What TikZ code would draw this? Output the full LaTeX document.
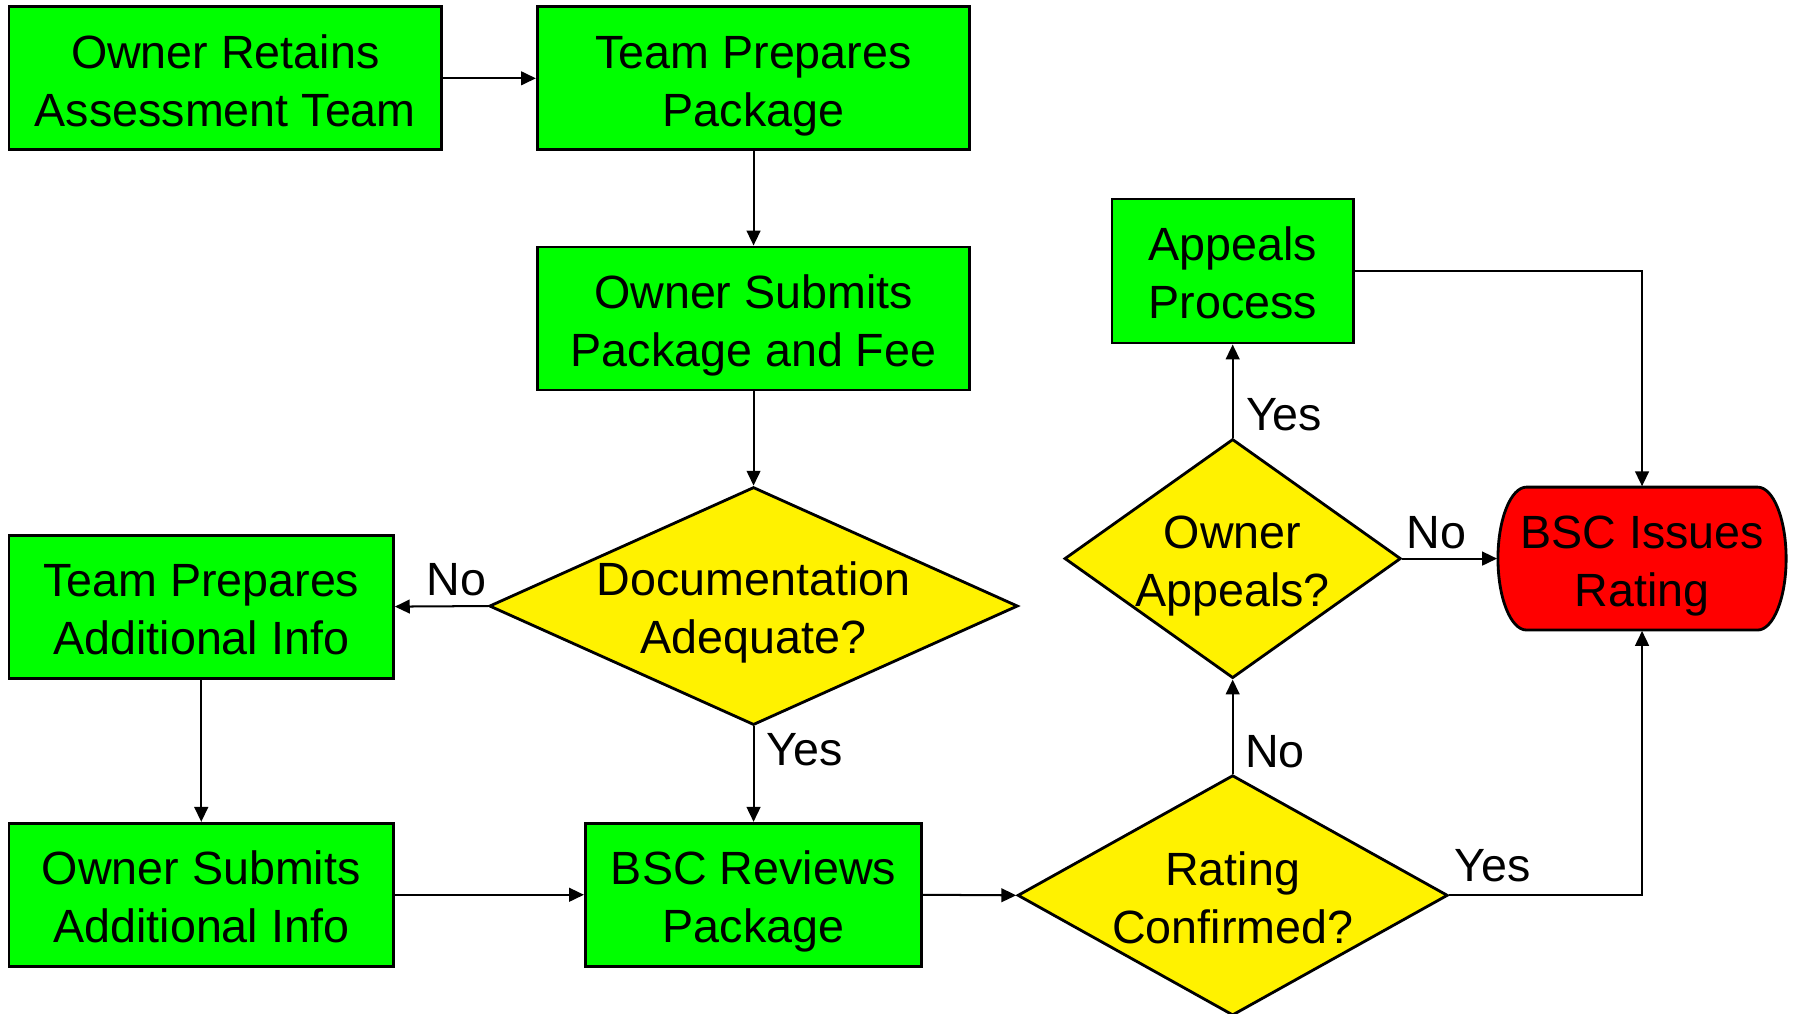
\documentclass[tikz,border=0pt]{standalone}
\usepackage{fontspec}
\setmainfont{Liberation Sans}
\usetikzlibrary{shapes.geometric, arrows.meta}

\begin{document}
\begin{tikzpicture}[x=0.01cm, y=-0.01cm,
    every node/.style={font=\fontsize{11.6}{14.4}\selectfont},
    twoline/.style={text height=23.8pt, text depth=0pt},
    task/.style={rectangle, draw, line width=0.7pt, fill=green, inner sep=0pt, minimum height=1.25cm, align=center, twoline},
    decision/.style={diamond, draw, line width=0.7pt, fill=yellow, inner sep=0pt},
    dtext/.style={align=center, inner sep=0pt, twoline},
    answer/.style={inner sep=0pt},
    arrow/.style={-{Triangle[length=1.3mm, width=1.2mm]}, line width=0.5pt}
]
    \useasboundingbox (0,0) rectangle (1568,886);

    % Process steps
    \node[task, minimum width=3.78cm] (retain) at (197,68.5) {Owner Retains\\Assessment Team};
    \node[task, minimum width=3.78cm] (prepare) at (659,68.5) {Team Prepares\\Package};
    \node[task, minimum width=3.78cm] (submit) at (659,278.5) {Owner Submits\\Package and Fee};
    \node[task, minimum width=3.36cm] (addinfo) at (176,530.5) {Team Prepares\\Additional Info};
    \node[task, minimum width=3.36cm] (subinfo) at (176,782.5) {Owner Submits\\Additional Info};
    \node[task, minimum width=2.94cm] (review) at (659,782.5) {BSC Reviews\\Package};
    \node[task, minimum width=2.11cm, minimum height=1.26cm] (appeals) at (1078,237) {Appeals\\Process};

    % Decisions
    \node[decision, minimum width=4.62cm, minimum height=2.08cm, label={[dtext]center:Documentation\\Adequate?}] (doc) at (659,530) {};
    \node[decision, minimum width=2.94cm, minimum height=2.09cm, label={[dtext]center:Owner\\Appeals?}] (appeal) at (1078,488.5) {};
    \node[decision, minimum width=3.76cm, minimum height=2.10cm, label={[dtext]center:Rating\\Confirmed?}] (rating) at (1078,783) {};

    % Terminator
    \draw[line width=0.7pt, fill=red] (1335,426) -- (1537,426)
        .. controls (1550.8,426) and (1562,454) .. (1562,488.5)
        .. controls (1562,523) and (1550.8,551) .. (1537,551) -- (1335,551)
        .. controls (1321.2,551) and (1310,523) .. (1310,488.5)
        .. controls (1310,454) and (1321.2,426) .. (1335,426) -- cycle;
    \node[minimum width=2.52cm, minimum height=1.25cm, inner sep=0pt, align=center, twoline] (issue) at (1436,488.5) {BSC Issues\\Rating};

    % Arrows
    \draw[arrow] (retain) -- (prepare);
    \draw[arrow] (prepare) -- (submit);
    \draw[arrow] (submit) -- (doc.north);
    \draw[arrow] (doc.west) -- (addinfo.east);
    \draw[arrow] (doc.south) -- (review.north);
    \draw[arrow] (addinfo) -- (subinfo);
    \draw[arrow] (subinfo) -- (review);
    \draw[arrow] (review.east) -- (rating.west);
    \draw[arrow] (rating.north) -- (appeal.south);
    \draw[arrow] (appeal.north) -- (appeals.south);
    \draw[arrow] (appeal.east) -- (issue.west);
    \draw[arrow] (appeals.east) -| (issue.north);
    \draw[arrow] (rating.east) -| (issue.south);

    % Answers
    \node[answer] (docno) at (399,507) {No};
    \node[answer] (docyes) at (704,656) {Yes};
    \node[answer] (appealyes) at (1123,363) {Yes};
    \node[answer] (appealno) at (1256,466) {No};
    \node[answer] (ratingno) at (1115,657) {No};
    \node[answer] (ratingyes) at (1305,757) {Yes};
\end{tikzpicture}
\end{document}
